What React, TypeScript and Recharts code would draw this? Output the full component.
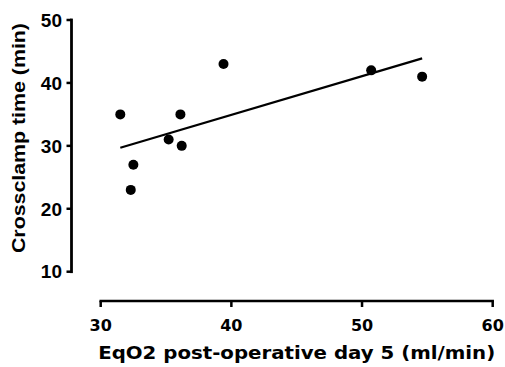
import React from 'react';
import { ScatterChart, Scatter, XAxis, YAxis, Label } from 'recharts';

const xValues = [31.5, 32.5, 32.3, 35.2, 36.1, 36.2, 39.4, 50.7, 54.6];
const yValues = [35, 27, 23, 31, 35, 30, 43, 42, 41];
const fitX = [31.5, 54.6];
const fitY = [29.7, 43.9];
const xTicks = [30, 40, 50, 60];
const yTicks = [10, 20, 30, 40, 50];
const xTitle = 'EqO2 post-operative day 5 (ml/min)';
const yTitle = 'Crossclamp time (min)';

const points = xValues.map((x, i) => ({ x, y: yValues[i] }));
const fitLine = fitX.map((x, i) => ({ x, y: fitY[i] }));

const X_SHIFT = 29.3;
const Y_SHIFT = -29.2;

const Dot = (props: any) => <circle cx={props.cx} cy={props.cy} r={5} fill="#000" />;
const NoDot = () => null;

const XTick = (props: any) => (
  <text
    x={props.x}
    y={props.y + X_SHIFT}
    dy="0.71em"
    textAnchor="middle"
    fontFamily="DejaVu Sans"
    fontWeight="bold"
    fontSize={16}
    fill="#000"
  >
    {props.payload.value}
  </text>
);

const YTick = (props: any) => (
  <text
    x={props.x + Y_SHIFT}
    y={props.y}
    dy="0.355em"
    textAnchor="end"
    fontFamily="Liberation Sans"
    fontWeight="bold"
    fontSize={19}
    fill="#000"
  >
    {props.payload.value}
  </text>
);

const XTitle = (props: any) => {
  const vb = props.viewBox || {};
  return (
    <text
      x={vb.x + vb.width / 2}
      y={vb.y + 58.3}
      textAnchor="middle"
      fontFamily="DejaVu Sans"
      fontWeight="bold"
      fontSize={17.5}
      fill="#000"
      textLength={397}
      lengthAdjust="spacingAndGlyphs"
    >
      {xTitle}
    </text>
  );
};

const YTitle = (props: any) => {
  const vb = props.viewBox || {};
  const cx = vb.x + 54.2;
  const cy = vb.y + vb.height / 2 - 7.8;
  return (
    <text
      x={cx}
      y={cy}
      transform={`rotate(-90, ${cx}, ${cy})`}
      textAnchor="middle"
      fontFamily="Liberation Sans"
      fontWeight="bold"
      fontSize={18.5}
      fill="#000"
      textLength={230}
      lengthAdjust="spacingAndGlyphs"
    >
      {yTitle}
    </text>
  );
};

export default function App() {
  return (
    <div style={{ position: 'absolute', left: 0, top: 0, width: 505, height: 367, background: '#fff' }}>
      <style>{`
        .recharts-cartesian-axis.recharts-xAxis { transform: translate(0px, ${X_SHIFT}px); }
        .recharts-cartesian-axis.recharts-yAxis { transform: translate(${Y_SHIFT}px, 0px); }
      `}</style>
      <ScatterChart width={505} height={367} margin={{ top: 20, right: 12.3, bottom: 0, left: 0 }}>
        <XAxis
          type="number"
          dataKey="x"
          domain={[30, 60]}
          ticks={xTicks}
          height={95.3}
          axisLine={{ stroke: '#000', strokeWidth: 2.5, strokeLinecap: 'square' }}
          tickLine={{ stroke: '#000', strokeWidth: 2.5 }}
          tickSize={6}
          tickMargin={13}
          tick={<XTick />}
          allowDataOverflow
        >
          <Label content={<XTitle />} />
        </XAxis>
        <YAxis
          type="number"
          dataKey="y"
          domain={[10, 50]}
          ticks={yTicks}
          width={100.7}
          axisLine={{ stroke: '#000', strokeWidth: 2.8, strokeLinecap: 'square' }}
          tickLine={{ stroke: '#000', strokeWidth: 2.5 }}
          tickSize={5}
          tickMargin={4.5}
          tick={<YTick />}
          allowDataOverflow
        >
          <Label content={<YTitle />} />
        </YAxis>
        <Scatter
          data={fitLine}
          line={{ stroke: '#000', strokeWidth: 2.2 }}
          shape={<NoDot />}
          isAnimationActive={false}
        />
        <Scatter data={points} shape={<Dot />} isAnimationActive={false} />
      </ScatterChart>
    </div>
  );
}
